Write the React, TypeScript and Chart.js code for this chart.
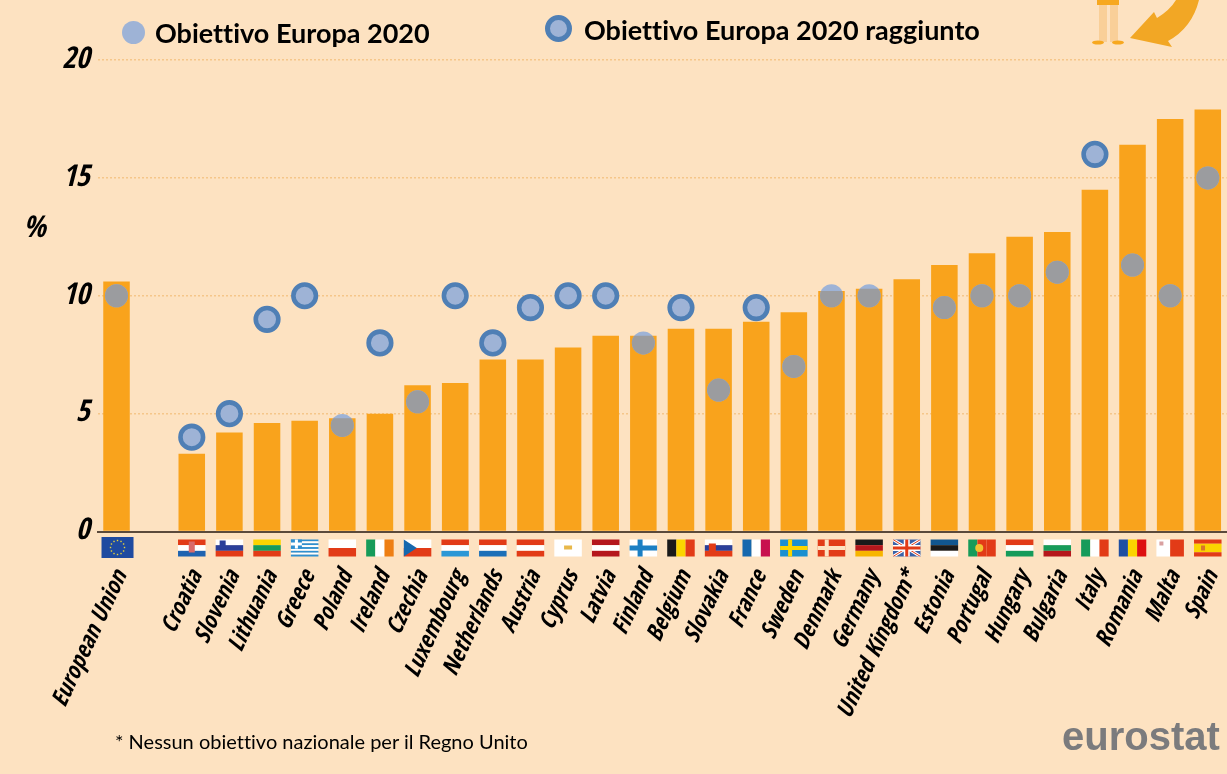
import React, { useEffect, useRef } from "react";
import { Chart, registerables } from "chart.js";

Chart.register(...registerables);

const categories = ["European Union", "", "Croatia", "Slovenia", "Lithuania", "Greece", "Poland", "Ireland", "Czechia", "Luxembourg", "Netherlands", "Austria", "Cyprus", "Latvia", "Finland", "Belgium", "Slovakia", "France", "Sweden", "Denmark", "Germany", "United Kingdom*", "Estonia", "Portugal", "Hungary", "Bulgaria", "Italy", "Romania", "Malta", "Spain"];
const shareValues = [10.6, null, 3.3, 4.2, 4.6, 4.7, 4.8, 5.0, 6.2, 6.3, 7.3, 7.3, 7.8, 8.3, 8.3, 8.6, 8.6, 8.9, 9.3, 10.2, 10.3, 10.7, 11.3, 11.8, 12.5, 12.7, 14.5, 16.4, 17.5, 17.9];
const targetPending = [10, null, null, null, null, null, 4.5, null, 5.5, null, null, null, null, null, 8, null, 6, null, 7, 10, 10, null, 9.5, 10, 10, 11, null, 11.3, 10, 15];
const targetReached = [null, null, 4, 5, 9, 10, null, 8, null, 10, 8, 9.5, 10, 10, null, 9.5, null, 9.5, null, null, null, null, null, null, null, null, 16, null, null, null];
const yTicks = [0, 5, 10, 15, 20];

const BG = "#fde2c1";
const BAR = "#f9a31c";
const LIGHT_BLUE = "#9eb3d6";
const RING = "#4f7fb5";
const GREY = "#9b9c9f";
const R = "#e23b17", W = "#ffffff", G = "#169b5a", Y = "#fbd400", K = "#1a1a1a", D = "#b5171c";

const flagStripes: Record<string, [string, string[]]> = {
  Croatia: ["h", [R, W, "#1f63b0"]], Slovenia: ["h", [W, "#2a3f9a", R]], Lithuania: ["h", [Y, G, R]], Greece: ["h", ["#2e8fd0", W, "#2e8fd0", W, "#2e8fd0", W, "#2e8fd0", W, "#2e8fd0"]],
  Poland: ["h", [W, R]], Ireland: ["v", [G, W, "#ee7f14"]], Czechia: ["h", [W, R]], Luxembourg: ["h", [R, W, "#2b97d6"]], Netherlands: ["h", [R, W, "#1c6fb8"]], Austria: ["h", [R, W, R]],
  Cyprus: ["h", [W]], Latvia: ["h", [D, W, D]], Finland: ["h", [W]], Belgium: ["v", [K, Y, R]], Slovakia: ["h", [W, "#2a3f9a", R]], France: ["v", ["#1668ae", W, "#c8104f"]],
  Sweden: ["h", ["#1a8fd0"]], Denmark: ["h", [R]], Germany: ["h", [K, D, "#f7b500"]], "United Kingdom*": ["h", ["#3a62a8"]], Estonia: ["h", ["#11568f", K, W]], Portugal: ["v", [G, R, R]],
  Hungary: ["h", [R, W, G]], Bulgaria: ["h", [W, G, D]], Italy: ["v", [G, W, R]], Romania: ["v", ["#1e4fa3", Y, "#dd1010"]], Malta: ["v", [W, R]], Spain: ["h", [R, Y, Y, R]],
};

function drawFlagDetails(c: CanvasRenderingContext2D, name: string, x: number, y: number, w: number, h: number) {
  const rect = (col: string, a: number, b: number, cw: number, ch: number) => { c.fillStyle = col; c.fillRect(x + a, y + b, cw, ch); };
  if (name === "Croatia") rect("#d96a6a", w / 2 - 3, 2, 6, 11);
  if (name === "Slovenia") rect("#2a3f9a", 4, 1, 6, 8);
  if (name === "Slovakia") rect(R, 4, 4, 7, 8);
  if (name === "Greece") { rect("#2e8fd0", 0, 0, 11, 9); rect(W, 4, 0, 3, 9); rect(W, 0, 3, 11, 3); }
  if (name === "Czechia") { c.fillStyle = "#1668ae"; c.beginPath(); c.moveTo(x, y); c.lineTo(x + 13, y + h / 2); c.lineTo(x, y + h); c.fill(); }
  if (name === "Cyprus") rect("#e8b84a", w / 2 - 4, 6, 8, 4);
  if (name === "Finland") { rect("#1a7fc4", 8, 0, 5, h); rect("#1a7fc4", 0, 6, w, 5); }
  if (name === "Sweden") { rect(Y, 8, 0, 4, h); rect(Y, 0, 6.5, w, 4); }
  if (name === "Denmark") { rect(BG, 7, 0, 4, h); rect(BG, 0, 6.5, w, 4); }
  if (name === "Portugal") { c.fillStyle = "#f2c230"; c.beginPath(); c.arc(x + 11, y + h / 2, 4, 0, Math.PI * 2); c.fill(); }
  if (name === "Malta") rect("#d9a0a0", 3, 2, 4, 4);
  if (name === "Spain") rect("#d8752a", 7, 6, 4, 5);
  if (name === "United Kingdom*") {
    c.save(); c.beginPath(); c.rect(x, y, w, h); c.clip();
    c.strokeStyle = W; c.lineWidth = 3;
    c.beginPath(); c.moveTo(x, y); c.lineTo(x + w, y + h); c.moveTo(x + w, y); c.lineTo(x, y + h); c.stroke();
    c.strokeStyle = R; c.lineWidth = 1;
    c.beginPath(); c.moveTo(x, y); c.lineTo(x + w, y + h); c.moveTo(x + w, y); c.lineTo(x, y + h); c.stroke();
    c.restore();
    rect(W, w / 2 - 3, 0, 6, h); rect(W, 0, h / 2 - 3, w, 6);
    rect(R, w / 2 - 1.5, 0, 3, h); rect(R, 0, h / 2 - 1.5, w, 3);
  }
}

const decorPlugin = {
  id: "decor",
  afterDatasetsDraw(chart: any) {
    const c: CanvasRenderingContext2D = chart.ctx;
    const barMeta = chart.getDatasetMeta(0);
    const pendingMeta = chart.getDatasetMeta(1);
    // Target markers turn grey where they lie over a bar
    c.save();
    c.beginPath();
    barMeta.data.forEach((b: any, i: number) => {
      if (shareValues[i] == null) return;
      c.rect(b.x - b.width / 2, b.y, b.width, b.base - b.y);
    });
    c.clip();
    c.fillStyle = GREY;
    pendingMeta.data.forEach((p: any, i: number) => {
      if (targetPending[i] == null) return;
      c.beginPath();
      c.arc(p.x, p.y, 11.5, 0, Math.PI * 2);
      c.fill();
    });
    c.restore();

    // Flags under each category
    const xs = chart.scales.x;
    categories.forEach((name, i) => {
      const cx = xs.getPixelForValue(i);
      if (name === "European Union") {
        c.fillStyle = "#1f4aa0";
        c.fillRect(cx - 15, 537, 32, 21);
        c.fillStyle = "#e8d23a";
        for (let k = 0; k < 12; k++) {
          const a = (k / 12) * Math.PI * 2;
          c.fillRect(cx + 1 + Math.cos(a) * 7 - 0.7, 547.5 + Math.sin(a) * 7 - 0.7, 1.4, 1.4);
        }
        return;
      }
      const spec = flagStripes[name];
      if (!spec) return;
      const w = 27.5, h = 17, x = cx - w / 2, y = 539.5;
      const [dir, cols] = spec;
      cols.forEach((col, k) => {
        c.fillStyle = col;
        if (dir === "h") c.fillRect(x, y + (k * h) / cols.length, w, h / cols.length);
        else c.fillRect(x + (k * w) / cols.length, y, w / cols.length, h);
      });
      drawFlagDetails(c, name, x, y, w, h);
    });

    // Corner illustration
    c.fillStyle = "#f9cf98";
    c.fillRect(1099, 0, 8, 42);
    c.fillRect(1110, 0, 8, 42);
    c.fillStyle = "#f7a81f";
    c.fillRect(1097, 0, 22, 5);
    c.beginPath(); c.ellipse(1098, 42.5, 6, 2, 0, 0, Math.PI * 2); c.fill();
    c.beginPath(); c.ellipse(1118, 42.5, 6, 2, 0, 0, Math.PI * 2); c.fill();
    c.fillStyle = "#f2a725";
    c.beginPath();
    c.moveTo(1199, 0);
    c.lineTo(1176, 0);
    c.quadraticCurveTo(1170, 10, 1157, 18);
    c.lineTo(1154, 12);
    c.lineTo(1130, 38);
    c.lineTo(1172, 47);
    c.lineTo(1168, 41);
    c.quadraticCurveTo(1192, 28, 1199, 0);
    c.closePath();
    c.fill();
  },
};

const narrow = "'Open Sans Condensed', 'Roboto Condensed', sans-serif";

const text = (left: number, top: number, font: string, color = "#000"): React.CSSProperties => ({
  position: "absolute", left, top, font, whiteSpace: "nowrap", lineHeight: 1, color, fontVariantLigatures: "none",
});
const dot = (left: number, top: number, size: number, ring: boolean): React.CSSProperties => ({
  position: "absolute", left, top, width: size, height: size, borderRadius: "50%", boxSizing: "border-box",
  background: LIGHT_BLUE, border: ring ? `5px solid ${RING}` : "none",
});

export default function App() {
  const ref = useRef<HTMLCanvasElement>(null);
  useEffect(() => {
    document.body.style.margin = "0";
    document.body.style.background = BG;
    const chart = new Chart(ref.current!, {
      type: "bar",
      data: {
        labels: categories,
        datasets: [
          { type: "bar", label: "Share", data: shareValues, backgroundColor: BAR, barPercentage: 0.705, categoryPercentage: 1, order: 2 },
          { type: "line", label: "Obiettivo Europa 2020", data: targetPending, showLine: false, pointRadius: 11.5, pointBorderWidth: 0, pointBackgroundColor: LIGHT_BLUE, order: 1 },
          { type: "line", label: "Obiettivo Europa 2020 raggiunto", data: targetReached, showLine: false, pointRadius: 11.3, pointBorderWidth: 4.6, pointBorderColor: RING, pointBackgroundColor: LIGHT_BLUE, order: 0 },
        ],
      } as any,
      options: {
        animation: false,
        responsive: false,
        layout: { autoPadding: false, padding: { top: 60, left: 0, right: 0.4, bottom: 0 } },
        plugins: { legend: { display: false }, tooltip: { enabled: false } },
        scales: {
          x: {
            grid: { display: false },
            border: { display: true, color: "#5b4a3b", width: 2, z: 1 },
            afterFit: (s: any) => { s.height = 242.5; s.paddingLeft = 0; s.paddingRight = 0; },
            ticks: {
              autoSkip: false, maxRotation: 65, minRotation: 65, padding: 27, labelOffset: 5,
              color: "#000", font: { family: narrow, size: 23.5, weight: "bold", style: "italic" },
            },
          },
          y: {
            min: 0, max: 20,
            afterFit: (s: any) => { s.width = 97.7; },
            afterBuildTicks: (s: any) => { s.ticks = yTicks.map((value) => ({ value })); },
            grid: { color: (ctx: any) => (ctx.tick.value === 0 ? "rgba(0,0,0,0)" : "#f5c68a"), lineWidth: 1.5, drawTicks: false },
            border: { display: false, dash: [2, 2] },
            ticks: { padding: 8, color: "#000", font: { family: narrow, size: 30, weight: "bold", style: "italic" } },
          },
        },
      } as any,
      plugins: [decorPlugin],
    });
    return () => chart.destroy();
  }, []);
  return (
    <div style={{ position: "absolute", left: 0, top: 0, width: 1227, height: 774, background: BG, overflow: "hidden" }}>
      <canvas ref={ref} width={1227} height={774} style={{ display: "block" }} />
      <div style={dot(121.5, 20.5, 23, false)} />
      <div style={dot(545, 15, 27, true)} />
      <div style={text(155, 19, "bold 27px Lato")}>Obiettivo Europa 2020</div>
      <div style={text(584, 16, "bold 27px Lato")}>Obiettivo Europa 2020 raggiunto</div>
      <div style={text(23, 211, `italic bold 30px ${narrow}`)}>%</div>
      <div style={text(115, 731, "20px Lato")}>* Nessun obiettivo nazionale per il Regno Unito</div>
      <div style={text(1062, 716, "bold 40px 'Liberation Sans'", "#7b7b7d")}>eurostat</div>
    </div>
  );
}
